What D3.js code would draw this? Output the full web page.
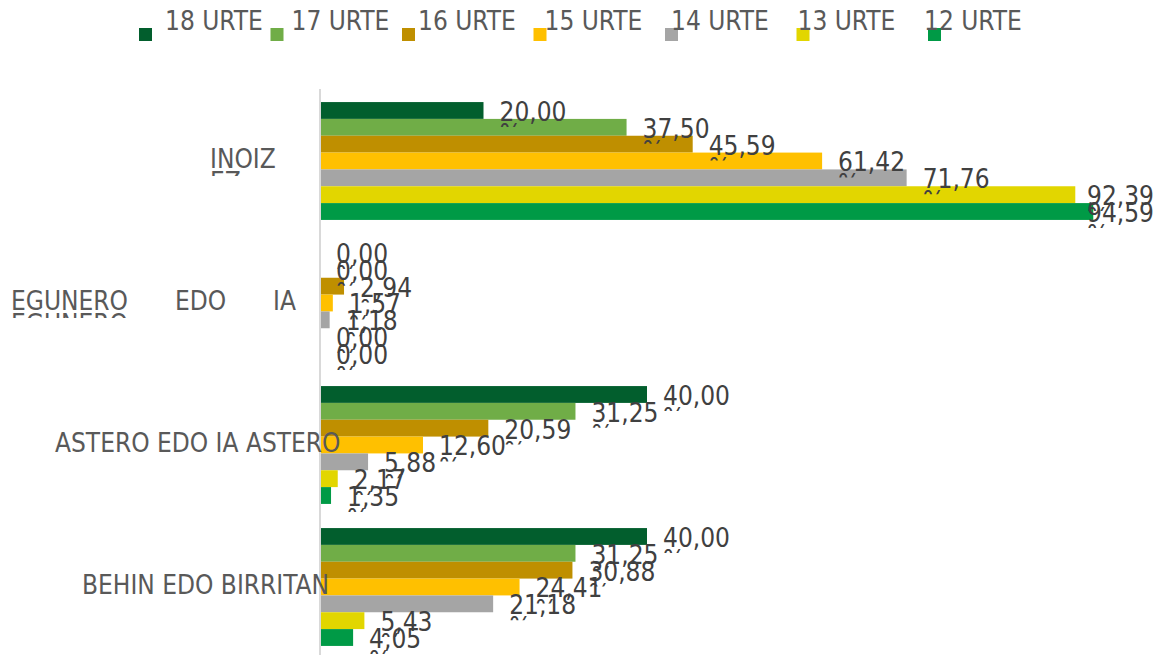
<!DOCTYPE html>
<html>
<head>
<meta charset="utf-8">
<script src="https://cdn.jsdelivr.net/npm/d3@7"></script>
<style>
  html, body { margin: 0; padding: 0; background: #fff; }
</style>
</head>
<body>
<div id="app"></div>
<script>
// Data
const series = ['18 URTE', '17 URTE', '16 URTE', '15 URTE', '14 URTE', '13 URTE', '12 URTE'];
const categories = ['INOIZ EZ', 'EGUNERO EDO IA EGUNERO', 'ASTERO EDO IA ASTERO', 'BEHIN EDO BIRRITAN'];
// how the category labels wrap in the original (first line | second line)
const categoryLines = [['INOIZ', 'EZ'], ['EGUNERO EDO IA', 'EGUNERO'], ['ASTERO EDO IA ASTERO'], ['BEHIN EDO BIRRITAN']];

const inoizEz = [20.00, 37.50, 45.59, 61.42, 71.76, 92.39, 94.59];
const egunero = [0.00, 0.00, 2.94, 1.57, 1.18, 0.00, 0.00];
const astero = [40.00, 31.25, 20.59, 12.60, 5.88, 2.17, 1.35];
const behin = [40.00, 31.25, 30.88, 24.41, 21.18, 5.43, 4.05];

const colors = ['#025E2D', '#70AD47', '#BF8F00', '#FFC000', '#A5A5A5', '#E2D600', '#009A46'];

const valuesByCat = [inoizEz, egunero, astero, behin];
const rows = categories.map((c, i) => ({ cat: c, lines: categoryLines[i], values: valuesByCat[i] }));

// SVG
const width = 1161;
const height = 655;
const margin = { top: 90, left: 320 };
const fontSize = '26px';

const svg = d3.select('#app').append('svg')
    .attr('width', width)
    .attr('height', height)
    .style('display', 'block')
    .style('font-family', '"DejaVu Sans Condensed", "DejaVu Sans", sans-serif')
    .style('font-stretch', 'condensed');

// Scales
const xScale = d3.scaleLinear()
    .domain([0, 100])
    .range([margin.left, 1137.5]);

const yScale = d3.scaleBand()
    .domain(categories)
    .range([margin.top, 658])
    .paddingInner(0.17)
    .paddingOuter(0.085);

const ySub = d3.scaleBand()
    .domain(series)
    .range([0, yScale.bandwidth()]);

const colorScale = d3.scaleOrdinal().domain(series).range(colors);

const fmt = v => d3.format('.2f')(v).replace('.', ',');

const defs = svg.append('defs');

// Bars
const groups = svg.append('g')
    .selectAll('g')
    .data(rows)
    .join('g')
    .attr('transform', d => `translate(0, ${yScale(d.cat)})`);

groups.selectAll('rect')
    .data(d => d.values.map((v, i) => ({ key: series[i], value: v })))
    .join('rect')
    .attr('x', xScale(0))
    .attr('y', d => ySub(d.key))
    .attr('width', d => xScale(d.value) - xScale(0))
    .attr('height', ySub.bandwidth())
    .attr('fill', d => colorScale(d.key));

// Axis line (no ticks)
svg.append('g')
    .attr('transform', `translate(${xScale(0)}, 0)`)
    .call(d3.axisLeft(yScale).tickSize(0).tickFormat(''))
    .call(g => g.select('.domain').attr('d', `M0,${margin.top - 1}V${height}`)
        .attr('stroke', '#D9D9D9').attr('stroke-width', 2));

// Data labels (wrapped "%" line gets cut off like in the original)
const labelLayer = svg.append('g');
let clipId = 0;
rows.forEach(row => {
    row.values.forEach((v, i) => {
        const key = series[i];
        const yb = yScale(row.cat) + ySub(key) + ySub.bandwidth() + 2;
        const id = 'lc' + (clipId++);
        defs.append('clipPath').attr('id', id)
            .append('rect')
            .attr('x', 0).attr('width', width)
            .attr('y', yb - 26)
            .attr('height', 32);
        const t = labelLayer.append('text')
            .attr('clip-path', `url(#${id})`)
            .attr('font-size', fontSize)
            .attr('fill', '#404040');
        const line1 = t.append('tspan')
            .attr('y', yb)
            .text(fmt(v));
        const line2 = t.append('tspan')
            .attr('y', yb + 22)
            .text('%');
        // keep the label inside the chart, like the original does
        const w = line1.node().getComputedTextLength();
        const lx = Math.min(xScale(v) + 16, width - 7 - w);
        line1.attr('x', lx);
        line2.attr('x', lx);
    });
});

// Category labels
const catLeft = [210, 11, 55, 82];
const catSpacing = [0, 39.5, 0, 0];
svg.append('g')
    .selectAll('g')
    .data(rows)
    .join('g')
    .each(function (d, i) {
        const base = yScale(d.cat) + yScale.bandwidth() / 2 + 7;
        const g = d3.select(this);
        g.append('text')
            .attr('x', catLeft[i])
            .attr('y', base)
            .attr('font-size', fontSize)
            .attr('fill', '#595959')
            .attr('word-spacing', catSpacing[i])
            .text(d.lines[0]);
        if (d.lines[1]) {
            const id = 'cc' + i;
            defs.append('clipPath').attr('id', id)
                .append('rect')
                .attr('x', 0).attr('width', margin.left)
                .attr('y', base).attr('height', 8);
            g.append('text')
                .attr('clip-path', `url(#${id})`)
                .attr('x', catLeft[i])
                .attr('y', base + 23)
                .attr('font-size', fontSize)
                .attr('fill', '#595959')
                .text(d.lines[1]);
        }
    });

// Legend
const legend = svg.append('g');
series.forEach((s, i) => {
    legend.append('rect')
        .attr('x', 139 + i * 131.5)
        .attr('y', 28)
        .attr('width', 13)
        .attr('height', 13)
        .attr('fill', colorScale(s));
    legend.append('text')
        .attr('x', 165 + i * 126.5)
        .attr('y', 30)
        .attr('font-size', fontSize)
        .attr('fill', '#595959')
        .text(s);
});
</script>
</body>
</html>
